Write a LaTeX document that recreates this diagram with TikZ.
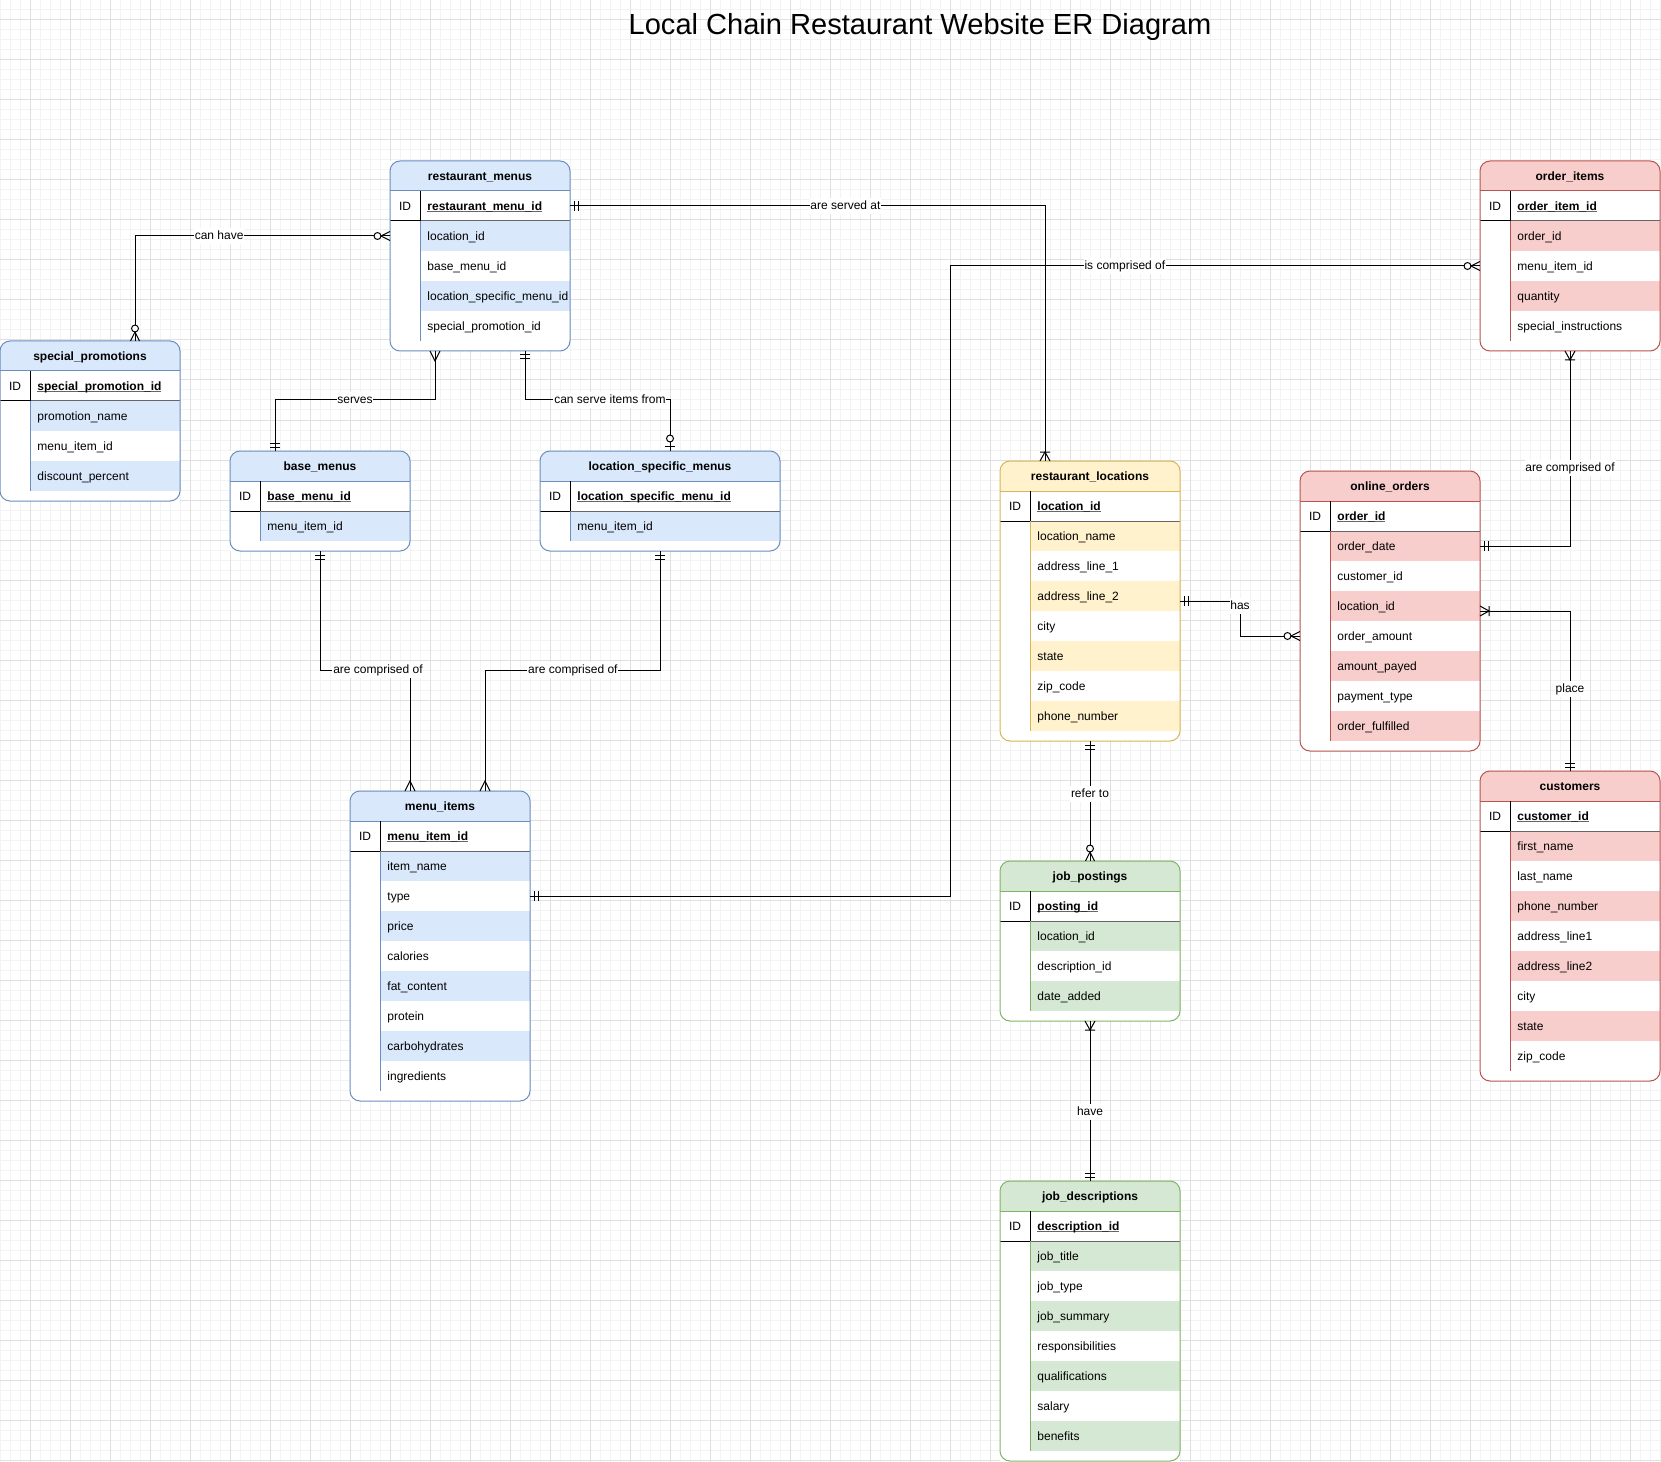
\documentclass[tikz,border=0pt]{standalone}
\usepackage{fontspec}
\setmainfont{Liberation Sans}
\usepackage{tikz}
\usetikzlibrary{positioning,%
  calc%
}

\definecolor{bluefill}{HTML}{DAE8FC}
\definecolor{blueline}{HTML}{6C8EBF}
\definecolor{yellowfill}{HTML}{FFF2CC}
\definecolor{yellowline}{HTML}{D6B656}
\definecolor{redfill}{HTML}{F8CECC}
\definecolor{redline}{HTML}{B85450}
\definecolor{greenfill}{HTML}{D5E8D4}
\definecolor{greenline}{HTML}{82B366}
\definecolor{gridmajor}{HTML}{E0E0E0}
\definecolor{gridminor}{HTML}{F3F3F3}
\definecolor{keyline}{HTML}{666666}

\hyphenpenalty=10000
\exhyphenpenalty=10000

\newcommand{\tabfont}{\fontsize{9}{10}\selectfont}
\newsavebox{\pkbox}
\newcommand{\pkname}[1]{\sbox{\pkbox}{\bfseries #1}\rlap{\color{keyline}\rule[-1.3pt]{\wd\pkbox}{0.7pt}}\usebox{\pkbox}}

\tikzset{
  tabbox/.style={rectangle, anchor=north west, fill=white, inner sep=0pt, outer sep=0pt},
  fieldrow/.style={rectangle, anchor=north west, inner xsep=5.6pt, inner ysep=0pt, outer sep=0pt,
    minimum height=22.5pt, text height=8pt, text depth=1.6pt, align=left, font=\tabfont},
  headtext/.style={font=\tabfont\bfseries, text height=8pt, text depth=1.6pt, inner sep=0pt},
  idcell/.style={font=\tabfont, text height=8pt, text depth=1.6pt, inner sep=0pt},
  rel/.style={fill=white, font=\tabfont, inner xsep=0.6pt, inner ysep=1.6pt, text height=7pt, text depth=1.9pt},
  charttitle/.style={font=\fontsize{21.8}{26}\selectfont, inner sep=0pt},
  % crow's foot ends, x points away from the table
  ermandone/.pic={\draw (4,-5) -- (4,5) (8,-5) -- (8,5);},
  ermany/.pic={\draw (0,-5) -- (10,0) -- (0,5);},
  eronetomany/.pic={\draw (0,-5) -- (9,0) -- (0,5) (9,-5) -- (9,5);},
  erzerotomany/.pic={\draw (0,-4.5) -- (9,0) -- (0,4.5); \draw[fill=white] (12.5,0) circle[radius=2.6pt];},
  erzerotoone/.pic={\draw (5,-5) -- (5,5); \draw[fill=white] (12.5,0) circle[radius=2.6pt];}
}

% #1 name, #2 top left, #3 width, #4 colour, #5 rows, #6 title, #7 key, #8 fields
\newcommand{\ertable}[8]{%
  \pgfmathsetmacro{\tabh}{70+30*#5}%
  \pgfmathsetmacro{\roww}{(#3-30)*0.75}%
  \pgfmathsetmacro{\rowtw}{(#3-30)*0.75-11.2}%
  \coordinate (#1-nw) at #2;
  \node[tabbox, minimum width=#3*0.75pt, minimum height=\tabh*0.75pt] (#1) at (#1-nw) {};
  \fill[#4fill, rounded corners=7.5pt] (#1-nw) rectangle ($(#1-nw)+(#3,30)$);
  \fill[#4fill] ($(#1-nw)+(0,20)$) rectangle ($(#1-nw)+(#3,30)$);
  \node[headtext] (#1-t) at ($(#1-nw)+(#3/2,15)$) {#6};
  \node[idcell] (#1-id) at ($(#1-nw)+(15,45)$) {ID};
  \node[fieldrow, minimum width=\roww pt, text width=\rowtw pt] (#1-0) at ($(#1-nw)+(30,30)$) {\pkname{#7}};
  \foreach \f [count=\i] in {#8} {
    \ifodd\i \def\rowcol{#4fill}\else \def\rowcol{white}\fi
    \node[fieldrow, fill=\rowcol, minimum width=\roww pt, text width=\rowtw pt] (#1-\i) at ($(#1-nw)+(30,30+30*\i)$) {\f};
  }
  \draw[#4line] ($(#1-nw)+(0,30)$) -- ++(#3,0);
  \draw ($(#1-nw)+(0,60)$) -- ++(30,0);
  \draw[keyline] ($(#1-nw)+(30,60)$) -- ++(#3-30,0);
  \draw ($(#1-nw)+(30,30)$) -- ++(0,30);
  \draw[#4line] ($(#1-nw)+(30,60)$) -- ++(0,30*#5);
  \draw[#4line, rounded corners=7.5pt] (#1.north west) rectangle (#1.south east);
}

\begin{document}
\begin{tikzpicture}[x=0.75pt, y=-0.75pt, line width=0.75pt]
  \useasboundingbox (0,0) rectangle (1661,1462);
  \fill[white] (0,0) rectangle (1661,1462);

  % grid
  \foreach \gx in {0,10,...,1660} \draw[gridminor] (\gx,0) -- (\gx,1462);
  \foreach \gy in {0,10,...,1460} \draw[gridminor] (0,\gy) -- (1661,\gy);
  \foreach \gx in {30,70,...,1650} \draw[gridmajor] (\gx,0) -- (\gx,1462);
  \foreach \gy in {20,60,...,1460} \draw[gridmajor] (0,\gy) -- (1661,\gy);

  \node[charttitle] (title) at (920,27) {Local Chain Restaurant Website ER Diagram};

  % menus
  \ertable{rm}{(390,161)}{180}{blue}{4}{restaurant\_menus}{restaurant\_menu\_id}
    {location\_id, base\_menu\_id, location\_specific\_menu\_id, special\_promotion\_id}
  \ertable{sp}{(0,341)}{180}{blue}{3}{special\_promotions}{special\_promotion\_id}
    {promotion\_name, menu\_item\_id, discount\_percent}
  \ertable{bm}{(230,451)}{180}{blue}{1}{base\_menus}{base\_menu\_id}{menu\_item\_id}
  \ertable{lsm}{(540,451)}{240}{blue}{1}{location\_specific\_menus}{location\_specific\_menu\_id}{menu\_item\_id}
  \ertable{mi}{(350,791)}{180}{blue}{8}{menu\_items}{menu\_item\_id}
    {item\_name, type, price, calories, fat\_content, protein, carbohydrates, ingredients}

  % locations and jobs
  \ertable{rl}{(1000,461)}{180}{yellow}{7}{restaurant\_locations}{location\_id}
    {location\_name, address\_line\_1, address\_line\_2, city, state, zip\_code, phone\_number}
  \ertable{jp}{(1000,861)}{180}{green}{3}{job\_postings}{posting\_id}
    {location\_id, description\_id, date\_added}
  \ertable{jd}{(1000,1181)}{180}{green}{7}{job\_descriptions}{description\_id}
    {job\_title, job\_type, job\_summary, responsibilities, qualifications, salary, benefits}

  % orders
  \ertable{oi}{(1480,161)}{180}{red}{4}{order\_items}{order\_item\_id}
    {order\_id, menu\_item\_id, quantity, special\_instructions}
  \ertable{oo}{(1300,471)}{180}{red}{7}{online\_orders}{order\_id}
    {order\_date, customer\_id, location\_id, order\_amount, amount\_payed, payment\_type, order\_fulfilled}
  \ertable{cu}{(1480,771)}{180}{red}{8}{customers}{customer\_id}
    {first\_name, last\_name, phone\_number, address\_line1, address\_line2, city, state, zip\_code}

  % relations
  \coordinate (sp-in) at ($(sp.north west)+(135,0)$);
  \draw (rm.west |- rm-1) -| node[rel, pos=0.335] (l-canhave) {can have} (sp-in);
  \pic[rotate=180] at (rm.west |- rm-1) {erzerotomany};
  \pic[rotate=90] at (sp-in) {erzerotomany};

  \coordinate (rm-out1) at ($(rm.south west)+(45,0)$);
  \coordinate (bm-in) at ($(bm.north west)+(45,0)$);
  \draw (rm-out1) -- ++(0,49) -| node[rel, pos=0.25] (l-serves) {serves} (bm-in);
  \pic[rotate=-90] at (rm-out1) {ermany};
  \pic[rotate=90] at (bm-in) {ermandone};

  \coordinate (rm-out2) at ($(rm.south west)+(135,0)$);
  \coordinate (lsm-in) at ($(lsm.north west)+(130,0)$);
  \draw (rm-out2) -- ++(0,49) -| node[rel, pos=0.293] (l-canserve) {can serve items from} (lsm-in);
  \pic[rotate=-90] at (rm-out2) {ermandone};
  \pic[rotate=90] at (lsm-in) {erzerotoone};

  \coordinate (rl-in) at ($(rl.north west)+(45,0)$);
  \draw (rm-0.east) -| node[rel, pos=0.29] (l-servedat) {are served at} (rl-in);
  \pic at (rm-0.east) {ermandone};
  \pic[rotate=90] at (rl-in) {eronetomany};

  \draw (mi-2.east) -| ($(oi.west |- oi-2)+(-530,0)$)
    -- node[rel, pos=0.33] (l-comprised) {is comprised of} (oi.west |- oi-2);
  \pic at (mi-2.east) {ermandone};
  \pic[rotate=180] at (oi.west |- oi-2) {erzerotomany};

  \draw (oi.south) |- node[rel, pos=0.3] (l-oicomp) {are comprised of} (oo-1.east);
  \pic[rotate=-90] at (oi.south) {eronetomany};
  \pic at (oo-1.east) {ermandone};

  \coordinate (rl-out) at ($(rl-3.east)+(0,5)$);
  \draw (rl-out) -- ++(60,0) |- node[rel, pos=0.07] (l-has) {has} (oo.west |- oo-4);
  \pic at (rl-out) {ermandone};
  \pic[rotate=180] at (oo.west |- oo-4) {erzerotomany};

  \coordinate (oo-out) at ($(oo-3.east)+(0,5)$);
  \draw (oo-out) -| node[rel, pos=0.745] (l-place) {place} (cu.north);
  \pic at (oo-out) {eronetomany};
  \pic[rotate=90] at (cu.north) {ermandone};

  \draw (rl.south) -- node[rel, pos=0.44] (l-refer) {refer to} (jp.north);
  \pic[rotate=-90] at (rl.south) {ermandone};
  \pic[rotate=90] at (jp.north) {erzerotomany};

  \draw (jp.south) -- node[rel, pos=0.567] (l-have) {have} (jd.north);
  \pic[rotate=-90] at (jp.south) {eronetomany};
  \pic[rotate=90] at (jd.north) {ermandone};

  \coordinate (mi-in1) at ($(mi.north west)+(60,0)$);
  \draw (bm.south) -- ++(0,119) -| node[rel, pos=0.322] (l-bmcomp) {are comprised of} (mi-in1);
  \pic[rotate=-90] at (bm.south) {ermandone};
  \pic[rotate=90] at (mi-in1) {ermany};

  \coordinate (mi-in2) at ($(mi.north west)+(135,0)$);
  \draw (lsm.south) -- ++(0,119) -| node[rel, pos=0.249] (l-lsmcomp) {are comprised of} (mi-in2);
  \pic[rotate=-90] at (lsm.south) {ermandone};
  \pic[rotate=90] at (mi-in2) {ermany};
\end{tikzpicture}
\end{document}
